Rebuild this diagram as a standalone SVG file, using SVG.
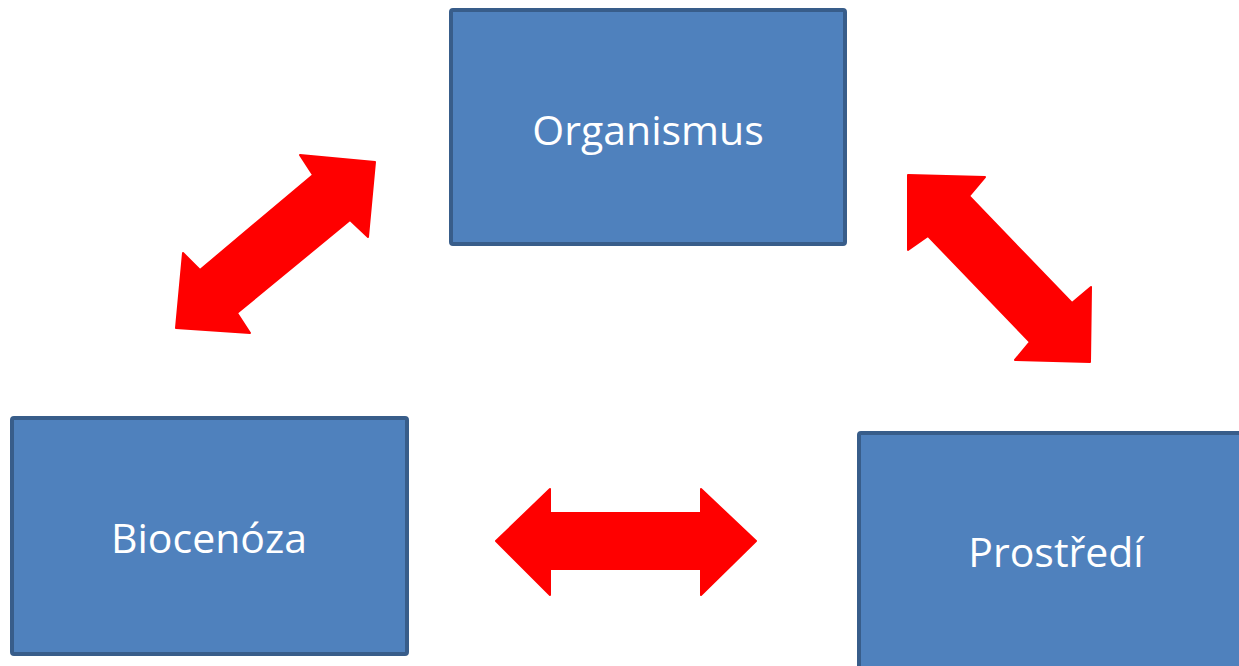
<svg xmlns="http://www.w3.org/2000/svg" width="1239" height="666" viewBox="0 0 1239 666">
<style>
.box{fill:#4f81bd;stroke:#385d8a;stroke-width:4}
.lbl{fill:#ffffff;font-family:"Open Sans","Noto Sans",sans-serif;font-size:41px;text-anchor:middle}
.arr{fill:#ff0000;stroke:#ff0000;stroke-width:2;stroke-linejoin:round}
</style>
<rect width="1239" height="666" fill="#ffffff"/>
<g id="organismus">
<rect class="box" x="451" y="10" width="394" height="234" rx="2"/>
<text class="lbl" x="648" y="145">Organismus</text>
</g>
<g id="biocenoza">
<rect class="box" x="12" y="418" width="395" height="236" rx="2"/>
<text class="lbl" x="209" y="553">Biocenóza</text>
</g>
<g id="prostredi">
<rect class="box" x="859" y="433" width="400" height="260" rx="2"/>
<text class="lbl" x="1056" y="567">Prostředí</text>
</g>
<g id="connectors">
<polygon class="arr" points="375,162 368,237 350,220 237,313 250,333 176,328 183,253 200,270 313,175 300,155"/>
<polygon class="arr" points="908,175 985,177 969,196 1072,303 1091,287 1090,362 1015,360 1030,342 928,236 908,250"/>
<polygon class="arr" points="496,541 550,489 550,513 701,513 701,489 756,541 701,595 701,569 550,569 550,595"/>
</g>
</svg>
